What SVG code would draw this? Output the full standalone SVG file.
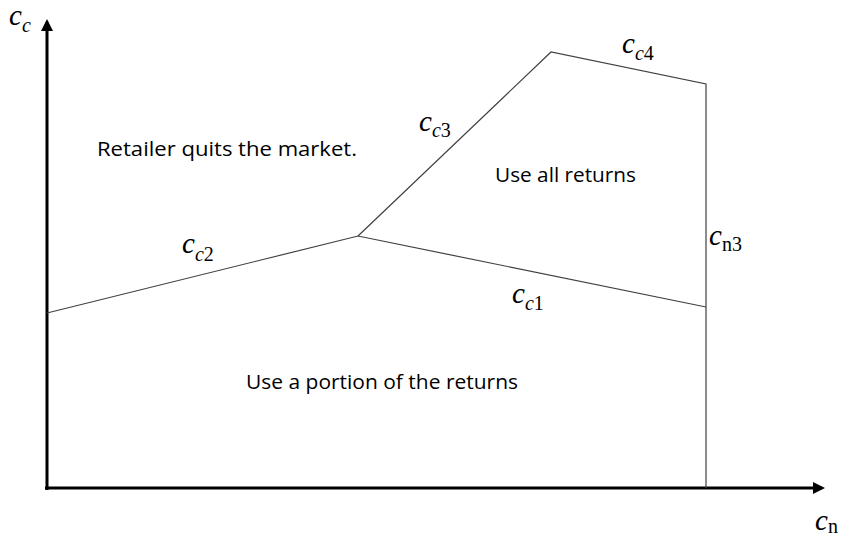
<svg xmlns="http://www.w3.org/2000/svg" width="847" height="536" viewBox="0 0 847 536">
  <style>
    .axis { stroke: #000; stroke-width: 3; fill: none; }
    .edge { stroke: #404040; stroke-width: 1.2; fill: none; }
    .region { font-family: "Open Sans", "Liberation Sans", sans-serif; font-size: 20px; fill: #000; }
    .math { font-family: "Liberation Serif", serif; font-size: 29px; fill: #000; }
    .it { font-style: italic; }
    .sub { font-size: 20px; }
  </style>
  <defs>
    <marker id="arrow" markerWidth="12" markerHeight="12" refX="9" refY="6" orient="auto" markerUnits="userSpaceOnUse">
      <path d="M0,0 L12,6 L0,12 Z" fill="#000"/>
    </marker>
  </defs>

  <!-- axes -->
  <g id="axes">
    <line class="axis" x1="47" y1="490" x2="47" y2="22" marker-end="url(#arrow)"/>
    <line class="axis" x1="45" y1="488" x2="822" y2="488" marker-end="url(#arrow)"/>
  </g>

  <!-- boundary lines -->
  <g id="connectors">
    <polyline class="edge" points="47,313 358,236 706,307"/>
    <polyline class="edge" points="358,236 551,52 706,84 706,488"/>
  </g>

  <!-- region labels -->
  <g id="quit"><text class="region" x="97" y="156" textLength="260" lengthAdjust="spacingAndGlyphs">Retailer quits the market.</text></g>
  <g id="all"><text class="region" x="495" y="182" textLength="141" lengthAdjust="spacingAndGlyphs">Use all returns</text></g>
  <g id="portion"><text class="region" x="246" y="389" textLength="272" lengthAdjust="spacingAndGlyphs">Use a portion of the returns</text></g>

  <!-- curve labels -->
  <g id="cc"><text class="math" x="9" y="25"><tspan class="it">c</tspan><tspan class="sub it" dy="7">c</tspan></text></g>
  <g id="cn"><text class="math" x="815" y="530"><tspan class="it">c</tspan><tspan class="sub" dy="3">n</tspan></text></g>
  <g id="cc1"><text class="math" x="512" y="303"><tspan class="it">c</tspan><tspan class="sub" dy="7"><tspan class="it">c</tspan>1</tspan></text></g>
  <g id="cc2"><text class="math" x="182" y="253"><tspan class="it">c</tspan><tspan class="sub" dy="8"><tspan class="it">c</tspan>2</tspan></text></g>
  <g id="cc3"><text class="math" x="419" y="131"><tspan class="it">c</tspan><tspan class="sub" dy="6"><tspan class="it">c</tspan>3</tspan></text></g>
  <g id="cc4"><text class="math" x="622" y="53"><tspan class="it">c</tspan><tspan class="sub" dy="7"><tspan class="it">c</tspan>4</tspan></text></g>
  <g id="cn3"><text class="math" x="709" y="245"><tspan class="it">c</tspan><tspan class="sub" dy="6">n3</tspan></text></g>
</svg>
